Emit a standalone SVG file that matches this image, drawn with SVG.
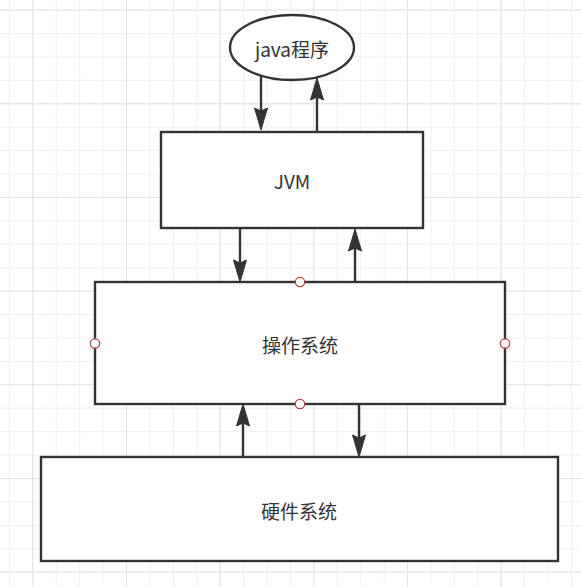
<svg xmlns="http://www.w3.org/2000/svg" width="581" height="587" viewBox="0 0 581 587">
<style>
.box{fill:#fff;stroke:#333;stroke-width:2.4}
.lbl{font-family:"Noto Sans CJK SC","Liberation Sans",sans-serif;font-size:19px;fill:#333;text-anchor:middle;dominant-baseline:central}
.edge{fill:none;stroke:#333;stroke-width:2.4;marker-end:url(#arr)}
.pt{fill:#fff;stroke:#b5413f;stroke-width:1.2}
</style>
<defs>
<pattern id="minor" patternUnits="userSpaceOnUse" x="32.3" y="9.6" width="23.42" height="23.42">
<path d="M0,0.5 H23.42 M0.5,0 V23.42" fill="none" stroke="#efefef" stroke-width="1"/>
</pattern>
<pattern id="major" patternUnits="userSpaceOnUse" x="32.3" y="9.6" width="93.68" height="93.68">
<path d="M0,0.5 H93.68 M0.5,0 V93.68" fill="none" stroke="#e3e3e3" stroke-width="1"/>
</pattern>
<marker id="arr" markerUnits="userSpaceOnUse" markerWidth="23" markerHeight="14" refX="16" refY="6.5" orient="auto" overflow="visible">
<path d="M0,0 L22,6.5 L0,13 L3,6.5 Z" fill="#333" stroke="#333" stroke-width="1" stroke-linejoin="miter"/>
</marker>
</defs>
<rect width="581" height="587" fill="#fff"/>
<rect width="581" height="587" fill="url(#minor)"/>
<rect width="581" height="587" fill="url(#major)"/>
<g id="connectors">
<path class="edge" d="M261,76 V124"/>
<path class="edge" d="M317,132 V84"/>
<path class="edge" d="M240,228 V276"/>
<path class="edge" d="M355,282 V235"/>
<path class="edge" d="M243,457 V410"/>
<path class="edge" d="M359,404 V451"/>
</g>
<g id="java">
<ellipse class="box" cx="292" cy="47.5" rx="62" ry="32.5"/>
<text class="lbl" x="292" y="48">java程序</text>
</g>
<g id="jvm">
<rect class="box" x="161" y="132" width="262" height="96"/>
<text class="lbl" x="292" y="180">JVM</text>
</g>
<g id="os">
<rect class="box" x="95" y="282" width="410" height="122"/>
<text class="lbl" x="300" y="344">操作系统</text>
<circle class="pt" cx="300" cy="282" r="4.7"/>
<circle class="pt" cx="95" cy="343.5" r="4.7"/>
<circle class="pt" cx="505" cy="343.5" r="4.7"/>
<circle class="pt" cx="300" cy="404" r="4.7"/>
</g>
<g id="hardware">
<rect class="box" x="41" y="457" width="517" height="104"/>
<text class="lbl" x="299" y="510">硬件系统</text>
</g>
</svg>
